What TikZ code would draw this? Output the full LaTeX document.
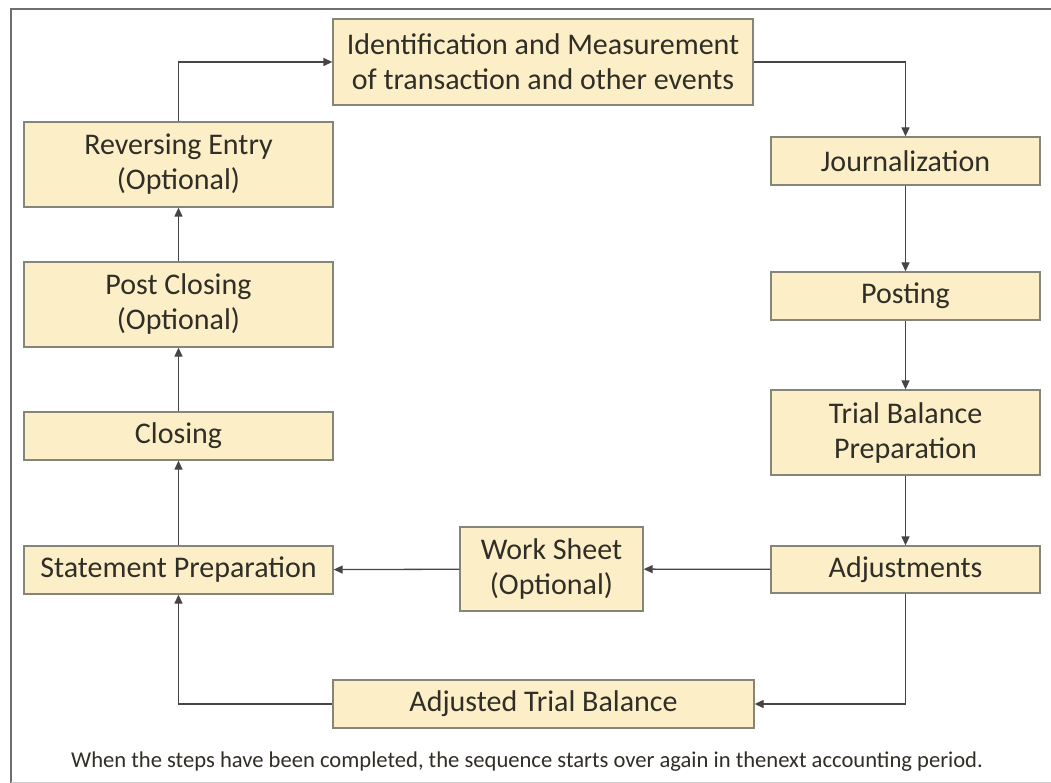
\documentclass[tikz,border=0pt]{standalone}
\usepackage{fontspec}
\setmainfont{Carlito}
\usetikzlibrary{arrows.meta}
\definecolor{boxfill}{HTML}{FCEFC8}
\definecolor{boxline}{HTML}{85857A}
\definecolor{ink}{HTML}{302E26}
\definecolor{wire}{HTML}{454545}
\definecolor{frame}{HTML}{6E6E6E}
\begin{document}
\begin{tikzpicture}[x=1pt,y=-1pt,
  stepbox/.style={draw=boxline, line width=1.3pt, fill=boxfill, text=ink,
    font=\fontsize{30}{35}\selectfont, align=center, inner sep=0pt},
  flow/.style={draw=wire, line width=1.3pt,
    -{Triangle[length=9pt,width=8pt]}},
]
\useasboundingbox (0,0) rectangle (1051,783);
\fill[white] (0,0) rectangle (1051,783);
% frame
\draw[frame, line width=2pt] (11,783) -- (11,9) -- (1051,9);
\draw[gray!40, line width=1pt] (11,782) -- (1051,782);

% steps of the cycle
\node[stepbox, minimum width=420, minimum height=86] (ident) at (543,62)
  {Identification and Measurement\\of transaction and other events};
\node[stepbox, minimum width=269, minimum height=48] (jour) at (905.5,161) {Journalization};
\node[stepbox, minimum width=269, minimum height=48] (post) at (905.5,296) {Posting};
\node[stepbox, minimum width=269, minimum height=85] (tbp) at (905.5,432.5) {Trial Balance\\Preparation};
\node[stepbox, minimum width=269, minimum height=47] (adj) at (905.5,569.5) {Adjustments};
\node[stepbox, minimum width=183, minimum height=84] (ws) at (551.5,569) {Work Sheet\\(Optional)};
\node[stepbox, minimum width=421, minimum height=48] (atb) at (543.5,704) {Adjusted Trial Balance};
\node[stepbox, minimum width=309, minimum height=48] (stmt) at (178.5,570) {Statement Preparation};
\node[stepbox, minimum width=309, minimum height=48] (clos) at (178.5,436) {Closing};
\node[stepbox, minimum width=309, minimum height=85] (pclos) at (178.5,304.5) {Post Closing\\(Optional)};
\node[stepbox, minimum width=309, minimum height=85] (rev) at (178.5,164.5) {Reversing Entry\\(Optional)};

% connectors
\draw[flow] (rev.north) |- (ident.west);
\draw[flow] (ident.east) -| (jour.north);
\draw[flow] (jour) -- (post);
\draw[flow] (post) -- (tbp);
\draw[flow] (tbp) -- (adj);
\draw[flow] (adj) -- (ws);
\draw[flow] (ws) -- (stmt);
\draw[flow] (adj.south) |- (atb.east);
\draw[flow] (atb.west) -| (stmt.south);
\draw[flow] (stmt) -- (clos);
\draw[flow] (clos) -- (pclos);
\draw[flow] (pclos) -- (rev);

\node[text=ink, font=\fontsize{22.6}{26}\selectfont, inner sep=0pt] (note) at (527,762)
  {When the steps have been completed, the sequence starts over again in thenext accounting period.};
\end{tikzpicture}
\end{document}
